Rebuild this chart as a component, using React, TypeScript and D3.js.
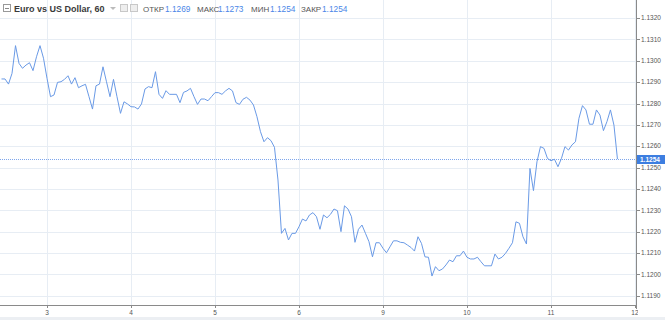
import React from "react";
import * as d3 from "d3";

// Hourly EUR/USD closes, starting at hour -13 relative to day "3" 00:00
const startHour = -13;
const closes: number[] = [
  1.12915, 1.12915, 1.12891, 1.12941, 1.13071, 1.12988, 1.12965, 1.1298, 1.12991, 1.12954,
  1.13019, 1.13071, 1.13012, 1.12918, 1.12832, 1.1284, 1.12899, 1.12902, 1.12913, 1.1293,
  1.12891, 1.12921, 1.12874, 1.12883, 1.1289, 1.12832, 1.12774, 1.12883, 1.12891, 1.12972,
  1.12902, 1.12832, 1.12913, 1.12832, 1.12754, 1.12808, 1.12798, 1.12785, 1.12784, 1.12774,
  1.12798, 1.12868, 1.12879, 1.12874, 1.12949, 1.12843, 1.12824, 1.1286, 1.12843, 1.12843,
  1.12843, 1.12804, 1.12852, 1.12859, 1.12871, 1.12832, 1.12796, 1.12821, 1.12821, 1.12813,
  1.12832, 1.12851, 1.12851, 1.12843, 1.12859, 1.12871, 1.12859, 1.12804, 1.12796, 1.1282,
  1.12829, 1.12816, 1.12793, 1.12738, 1.12668, 1.12621, 1.1264, 1.12626, 1.12595, 1.12442,
  1.12192, 1.12215, 1.12161, 1.12192, 1.12192, 1.12223, 1.12259, 1.1225, 1.12278, 1.12289,
  1.1227, 1.12211, 1.12278, 1.12265, 1.12281, 1.12306, 1.12298, 1.122, 1.12321, 1.12306,
  1.1227, 1.1215, 1.12211, 1.12231, 1.12192, 1.12153, 1.12082, 1.12148, 1.12148, 1.12122,
  1.12101, 1.12129, 1.12157, 1.12157, 1.1215, 1.12148, 1.12137, 1.12126, 1.12109, 1.12176,
  1.12145, 1.12082, 1.1208, 1.11992, 1.12036, 1.12017, 1.12025, 1.12044, 1.12067, 1.12059,
  1.12087, 1.12087, 1.12109, 1.1208, 1.12072, 1.12072, 1.1208, 1.12059, 1.1204, 1.1204,
  1.1204, 1.12095, 1.12072, 1.1208, 1.12098, 1.12122, 1.12148, 1.12246, 1.12239, 1.12176,
  1.12142, 1.12496, 1.12392, 1.12527, 1.12598, 1.1259, 1.12543, 1.12532, 1.12539, 1.12504,
  1.12543, 1.12598, 1.12582, 1.12606, 1.12621, 1.12731, 1.1279, 1.1277, 1.12703, 1.12703,
  1.1277, 1.12746, 1.12673, 1.12715, 1.1277, 1.12699, 1.1254,
];

const dayTickHours = [0, 24, 48, 72, 96, 120, 144, 168];
const dayTickLabels = ["3", "4", "5", "6", "9", "10", "11", "12"];
const priceTicks = [1.119, 1.12, 1.121, 1.122, 1.123, 1.124, 1.125, 1.126, 1.127, 1.128, 1.129, 1.13, 1.131, 1.132];
const lastPrice = 1.1254;

const symbolTitle = "Euro vs US Dollar, 60";
const ohlcLabels = ["ОТКР", "МАКС", "МИН", "ЗАКР"];
const ohlcValues = ["1.1269", "1.1273", "1.1254", "1.1254"];

const W = 665;
const H = 320;
const plotRight = 636;
const plotBottom = 305;

export default function App() {
  const x = d3.scaleLinear().domain([-13.43, 168.3]).range([0, plotRight]);
  const y = d3.scaleLinear().domain([1.119, 1.132]).range([295.7, 18.1]);
  const line = d3
    .line<number>()
    .x((_, i) => x(startHour + i))
    .y((d) => y(d));

  const font = "'Liberation Sans', Arial, sans-serif";
  const grid = "#e7edf4";
  const blue = "#4a86e8";
  const labelX = [143, 197, 251, 301];
  const valueX = [165, 218, 270, 322];
  const yLast = Math.round(y(lastPrice)) + 0.5;

  return (
    <svg
      width={W}
      height={H}
      style={{ position: "absolute", left: 0, top: 0, background: "#fff" }}
      fontFamily={font}
    >
      <defs>
        <clipPath id="plotClip">
          <rect x={0} y={0} width={plotRight} height={plotBottom} />
        </clipPath>
        <clipPath id="xlabClip">
          <rect x={0} y={plotBottom} width={plotRight + 2} height={H - plotBottom} />
        </clipPath>
      </defs>
      <rect x={0} y={0} width={W} height={H} fill="#fff" />
      {/* grid */}
      {priceTicks.map((t) => (
        <line key={"h" + t} x1={0} x2={plotRight} y1={Math.round(y(t)) + 0.5} y2={Math.round(y(t)) + 0.5} stroke={grid} />
      ))}
      {dayTickHours.map((h) => (
        <line key={"v" + h} x1={Math.round(x(h)) + 0.5} x2={Math.round(x(h)) + 0.5} y1={0} y2={plotBottom} stroke={grid} />
      ))}
      {/* last price dotted line */}
      <line x1={0} x2={plotRight} y1={yLast} y2={yLast} stroke="#7ea6ec" strokeDasharray="1,1" />
      {/* series */}
      <g clipPath="url(#plotClip)">
        <path d={line(closes) || ""} fill="none" stroke="#6a9ae6" strokeWidth={1} strokeLinejoin="round" />
      </g>
      {/* axes */}
      <line x1={plotRight + 0.5} x2={plotRight + 0.5} y1={0} y2={plotBottom + 4} stroke="#8a8a8a" />
      <line x1={0} x2={plotRight + 1} y1={plotBottom + 0.5} y2={plotBottom + 0.5} stroke="#8a8a8a" />
      {priceTicks.map((t) => (
        <g key={"yt" + t}>
          <line x1={plotRight} x2={plotRight + 4} y1={Math.round(y(t)) + 0.5} y2={Math.round(y(t)) + 0.5} stroke="#8a8a8a" />
          <text x={641} y={y(t)} dy="0.35em" fontSize={6.5} fill="#555">
            {t.toFixed(4)}
          </text>
        </g>
      ))}
      <g clipPath="url(#xlabClip)">
        {dayTickHours.map((h, i) => (
          <g key={"xt" + h}>
            <line x1={Math.round(x(h)) + 0.5} x2={Math.round(x(h)) + 0.5} y1={plotBottom} y2={plotBottom + 3} stroke="#8a8a8a" />
            <text x={x(h)} y={315} textAnchor="middle" fontSize={6.5} fill="#555">
              {dayTickLabels[i]}
            </text>
          </g>
        ))}
      </g>
      {/* last price label */}
      <rect x={plotRight + 1} y={yLast - 4.5} width={W - plotRight - 1} height={9} fill="#3d7ee0" />
      <text x={640} y={yLast} dy="0.35em" fontSize={6.5} fill="#fff" fontWeight="bold">
        {lastPrice.toFixed(4)}
      </text>
      {/* bottom frame */}
      <rect x={0} y={317} width={W} height={3} fill="#eceff3" />
      {/* header */}
      <rect x={3.5} y={4.5} width={7} height={7} fill="#fff" stroke="#999" />
      <line x1={5} x2={9} y1={8.5} y2={8.5} stroke="#888" />
      <text x={14} y={12} fontSize={9} fontWeight="bold" fill="#3a3a3a">
        {symbolTitle}
      </text>
      <path d="M110,7 l3,3 l3,-3 z" fill="#bbb" />
      <rect x={120.5} y={4.5} width={7} height={7} fill="#eee" stroke="#c8c8c8" />
      <rect x={130.5} y={4.5} width={7} height={7} fill="#eee" stroke="#c8c8c8" />
      {ohlcLabels.map((l, i) => (
        <g key={l}>
          <text x={labelX[i]} y={11.5} fontSize={8} fill="#555">
            {l}
          </text>
          <text x={valueX[i]} y={11.5} fontSize={8.3} fill={blue}>
            {ohlcValues[i]}
          </text>
        </g>
      ))}
    </svg>
  );
}
